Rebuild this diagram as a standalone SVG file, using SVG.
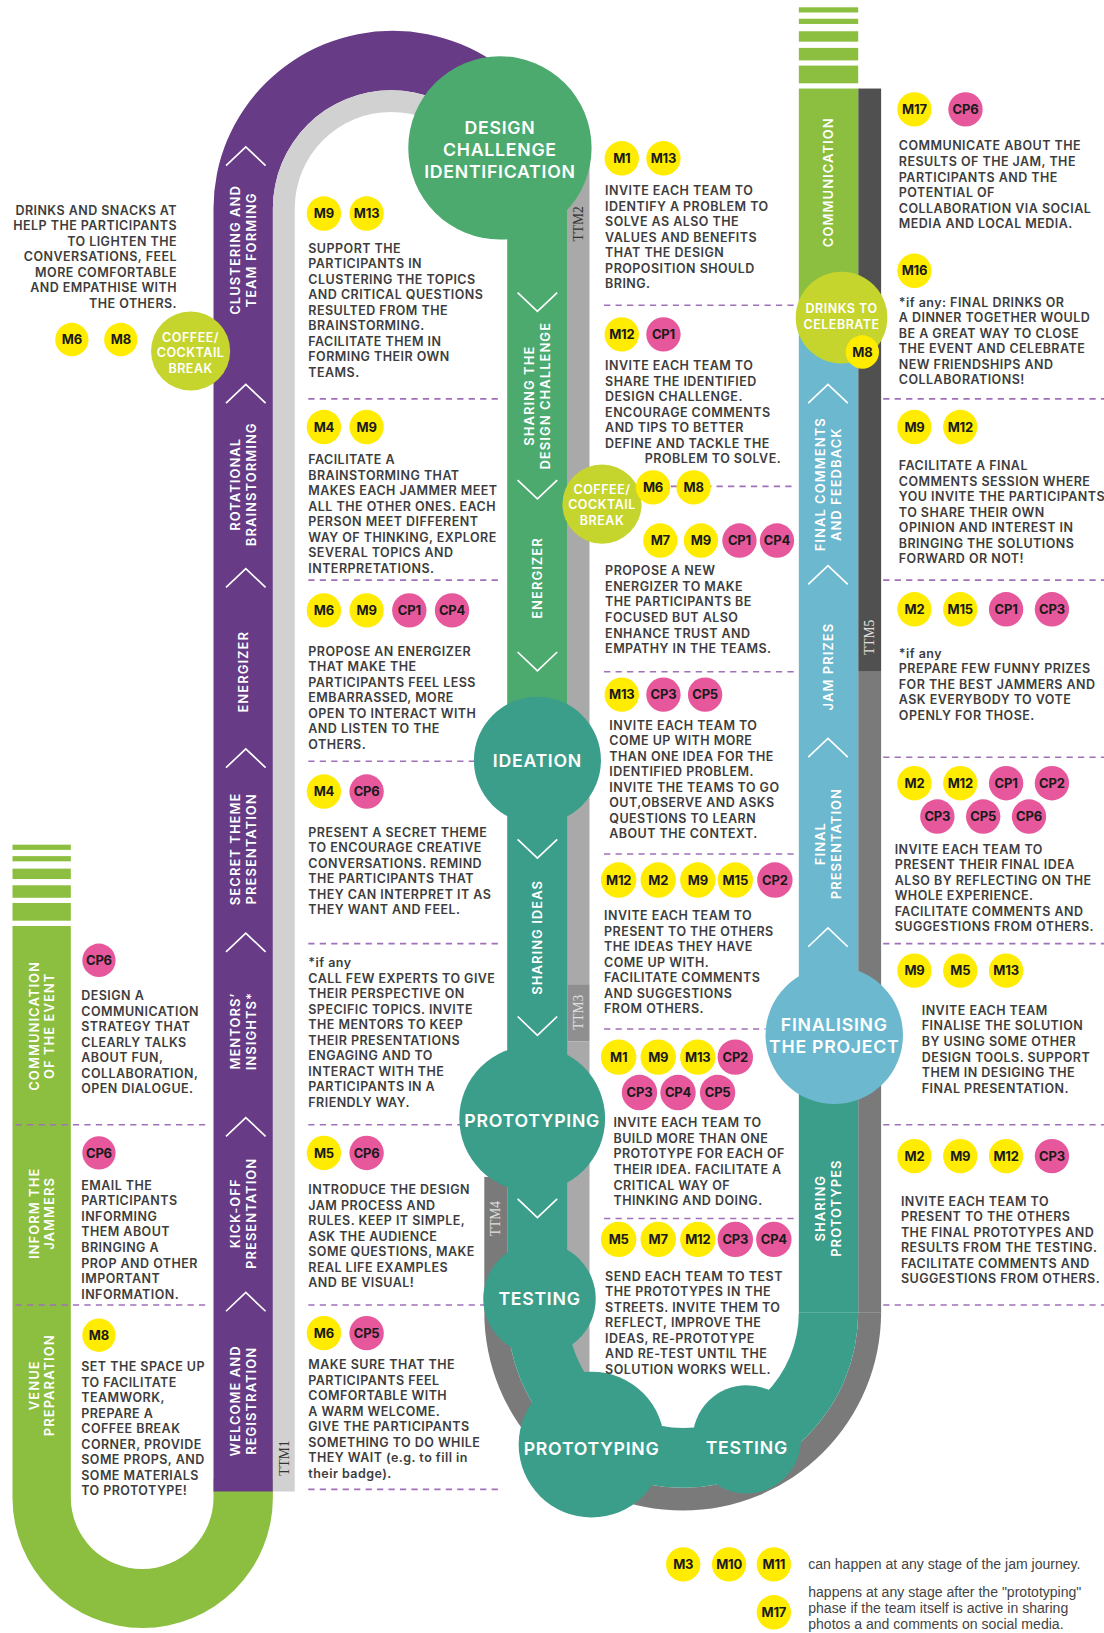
<svg xmlns="http://www.w3.org/2000/svg" width="1104" height="1633" viewBox="0 0 1104 1633">
<style>
.t{font-family:Inter,'Open Sans','Liberation Sans',sans-serif;font-weight:600;font-size:12px;letter-spacing:0.45px;fill:#3d3d3d}
.b{font-family:Inter,'Liberation Sans',sans-serif;font-weight:700;font-size:12.5px;letter-spacing:-0.2px;fill:#1a1a1a;text-anchor:middle}
.m{fill:#ffec00}
.c{fill:#e6589b}
.lb{font-family:Inter,'Liberation Sans',sans-serif;font-weight:600;font-size:12.5px;letter-spacing:1px;fill:#fff;text-anchor:middle}
.cl{font-family:Inter,'Liberation Sans',sans-serif;font-weight:600;font-size:17px;letter-spacing:0.7px;fill:#fff;text-anchor:middle}
.cs{font-family:Inter,'Liberation Sans',sans-serif;font-weight:600;font-size:12px;letter-spacing:0.5px;fill:#fff;text-anchor:middle}
.ttm{font-family:'Liberation Serif',serif;font-size:13px;text-anchor:middle}
.d{stroke:#a070b8;stroke-width:1.5;stroke-dasharray:6 5;fill:none}
.ch{stroke:#fff;stroke-width:1.6;fill:none}
.lg{font-family:'Liberation Sans',Arial,sans-serif;font-size:13.5px;fill:#444}
.lime{fill:#c6d52e}
.teal{fill:#3b9e8a}
</style>
<defs>
<path id="cu" d="M-19,9 L0,-9 L19,9"/>
<path id="cd" d="M-19,-9 L0,9 L19,-9"/>
</defs>
<rect width="1104" height="1633" fill="#fff"/>
<g transform="scale(1.04151)">

<!-- tracks -->
<g id="tracks">
 <g fill="#8cbf3f">
  <rect x="12" y="811" width="56" height="5"/>
  <rect x="12" y="822" width="56" height="5"/>
  <rect x="12" y="834" width="56" height="10"/>
  <rect x="12" y="850" width="56" height="12"/>
  <rect x="12" y="867" width="56" height="17"/>
  <path d="M12,889 V1438 A125,125 0 0 0 262,1438 V1420 H205 V1438 A68.5,68.5 0 0 1 68,1438 V889 Z"/>
 </g>
 <path fill="#673b85" d="M205,1432 V200 A172,170.5 0 0 1 549,200 L489,200 A113.5,113.5 0 0 0 262,200 V1432 Z"/>
 <path fill="#d1d1d1" d="M262,1432 V200 A113.5,113.5 0 0 1 489,200 L468,200 A92.5,92.5 0 0 0 283,200 V1432 Z"/>
 <rect x="545" y="150" width="21" height="795" fill="#a9a9a9"/>
 <rect x="545" y="945" width="21" height="55" fill="#8f8f8f"/>
 <rect x="545" y="1000" width="21" height="330" fill="#a9a9a9"/>
 <rect x="465" y="1130" width="22" height="130" fill="#7a7a7a"/>
 <rect x="824" y="85" width="22" height="560" fill="#505050"/>
 <rect x="824" y="645" width="22" height="615" fill="#7a7a7a"/>
 <path fill="#7a7a7a" d="M465,1260 A190.5,190.5 0 0 0 846,1260 L824,1260 A168.5,168.5 0 0 1 487,1260 Z"/>
 <rect x="487" y="142" width="58" height="590" fill="#4caa6e"/>
 <rect x="487" y="732" width="58" height="528" class="teal"/>
 <path class="teal" d="M487,1260 A168.5,168.5 0 0 0 824,1260 L767,1260 A111,111 0 0 1 545,1260 Z"/>
 <g fill="#8cbf3f">
  <rect x="767" y="7" width="57" height="5"/>
  <rect x="767" y="18" width="57" height="5"/>
  <rect x="767" y="30" width="57" height="10"/>
  <rect x="767" y="46" width="57" height="12"/>
  <rect x="767" y="63" width="57" height="17"/>
  <rect x="767" y="85" width="57" height="220"/>
 </g>
 <rect x="767" y="305" width="57" height="689" fill="#6bb8cf"/>
 <rect x="767" y="994" width="57" height="266" class="teal"/>
</g>

<!-- connectors: chevrons and dashed separators -->
<g id="connectors">
 <g class="ch">
  <use href="#cu" x="236" y="150"/><use href="#cu" x="236" y="378"/><use href="#cu" x="236" y="555"/>
  <use href="#cu" x="236" y="728"/><use href="#cu" x="236" y="905"/><use href="#cu" x="236" y="1082"/>
  <use href="#cu" x="236" y="1250"/>
  <use href="#cd" x="516" y="290"/><use href="#cd" x="516" y="470"/><use href="#cd" x="516" y="635"/>
  <use href="#cd" x="516" y="815"/><use href="#cd" x="516" y="985"/><use href="#cd" x="516" y="1160"/>
  <use href="#cu" x="795" y="378"/><use href="#cu" x="795" y="552"/><use href="#cu" x="795" y="718"/>
  <use href="#cu" x="795" y="900"/>
 </g>
 <g class="d">
  <path d="M15,1080 H197 M15,1253 H197"/>
  <path d="M296,383 H480 M296,557 H480 M296,731 H478 M296,906 H480 M296,1080 H480 M296,1253 H480 M296,1430 H480"/>
  <path d="M580,293 H765 M600,467 H765 M580,645 H765 M580,820 H765 M580,988 H735 M580,1170 H765"/>
  <path d="M848,383 H1060 M848,557 H1060 M848,727 H1060 M848,906 H1060 M848,1080 H1060 M848,1253 H1060"/>
 </g>
</g>

<!-- band labels -->
<g id="band-labels" class="lb">
 <text transform="translate(233.5,240) rotate(-90)"><tspan x="0" y="-3">CLUSTERING AND</tspan><tspan x="0" y="12">TEAM FORMING</tspan></text>
 <text transform="translate(233.5,465) rotate(-90)"><tspan x="0" y="-3">ROTATIONAL</tspan><tspan x="0" y="12">BRAINSTORMING</tspan></text>
 <text transform="translate(233.5,645) rotate(-90)" y="4.5">ENERGIZER</text>
 <text transform="translate(233.5,815) rotate(-90)"><tspan x="0" y="-3">SECRET THEME</tspan><tspan x="0" y="12">PRESENTATION</tspan></text>
 <text transform="translate(233.5,990) rotate(-90)"><tspan x="0" y="-3">MENTORS’</tspan><tspan x="0" y="12">INSIGHTS*</tspan></text>
 <text transform="translate(233.5,1165) rotate(-90)"><tspan x="0" y="-3">KICK-OFF</tspan><tspan x="0" y="12">PRESENTATION</tspan></text>
 <text transform="translate(233.5,1345) rotate(-90)"><tspan x="0" y="-3">WELCOME AND</tspan><tspan x="0" y="12">REGISTRATION</tspan></text>
 <text transform="translate(40,985) rotate(-90)"><tspan x="0" y="-3">COMMUNICATION</tspan><tspan x="0" y="12">OF THE EVENT</tspan></text>
 <text transform="translate(40,1165) rotate(-90)"><tspan x="0" y="-3">INFORM THE</tspan><tspan x="0" y="12">JAMMERS</tspan></text>
 <text transform="translate(40,1330) rotate(-90)"><tspan x="0" y="-3">VENUE</tspan><tspan x="0" y="12">PREPARATION</tspan></text>
 <text transform="translate(516,380) rotate(-90)"><tspan x="0" y="-3">SHARING THE</tspan><tspan x="0" y="12">DESIGN CHALLENGE</tspan></text>
 <text transform="translate(516,555) rotate(-90)" y="4.5">ENERGIZER</text>
 <text transform="translate(516,900) rotate(-90)" y="4.5">SHARING IDEAS</text>
 <text transform="translate(795.5,175) rotate(-90)" y="4.5">COMMUNICATION</text>
 <text transform="translate(795.5,465) rotate(-90)"><tspan x="0" y="-3">FINAL COMMENTS</tspan><tspan x="0" y="12">AND FEEDBACK</tspan></text>
 <text transform="translate(795.5,640) rotate(-90)" y="4.5">JAM PRIZES</text>
 <text transform="translate(795.5,810) rotate(-90)"><tspan x="0" y="-3">FINAL</tspan><tspan x="0" y="12">PRESENTATION</tspan></text>
 <text transform="translate(795.5,1160) rotate(-90)"><tspan x="0" y="-3">SHARING</tspan><tspan x="0" y="12">PROTOTYPES</tspan></text>
</g>
<g id="ttm-labels" class="ttm">
 <text transform="translate(273,1400) rotate(-90)" y="4.5" fill="#333">TTM1</text>
 <text transform="translate(555.5,215) rotate(-90)" y="4.5" fill="#333">TTM2</text>
 <text transform="translate(555.5,972) rotate(-90)" y="4.5" fill="#e0e0e0">TTM3</text>
 <text transform="translate(476,1170) rotate(-90)" y="4.5" fill="#e0e0e0">TTM4</text>
 <text transform="translate(835,612) rotate(-90)" y="4.5" fill="#e0e0e0">TTM5</text>
</g>

<!-- phase circles -->
<g id="design-challenge"><circle cx="480" cy="142" r="88" fill="#4caa6e"/>
 <text class="cl"><tspan x="480" y="129">DESIGN</tspan><tspan x="480" y="150">CHALLENGE</tspan><tspan x="480" y="171">IDENTIFICATION</tspan></text></g>
<g id="ideation"><circle cx="516" cy="730" r="61" class="teal"/><text class="cl" x="516" y="736">IDEATION</text></g>
<g id="prototyping-1"><circle cx="511" cy="1074" r="70" class="teal"/><text class="cl" x="511" y="1082">PROTOTYPING</text></g>
<g id="testing-1"><circle cx="518" cy="1247" r="54" class="teal"/><text class="cl" x="518" y="1253">TESTING</text></g>
<g id="prototyping-2"><circle cx="568" cy="1387" r="70" class="teal"/><text class="cl" x="568" y="1397">PROTOTYPING</text></g>
<g id="testing-2"><circle cx="717" cy="1382" r="52" class="teal"/><text class="cl" x="717" y="1396">TESTING</text></g>
<g id="finalising"><circle cx="801" cy="994" r="66" fill="#6bb8cf"/>
 <text class="cl"><tspan x="801" y="990">FINALISING</tspan><tspan x="801" y="1011">THE PROJECT</tspan></text></g>
<g id="coffee-1"><circle cx="183" cy="337" r="38" class="lime"/>
 <text class="cs"><tspan x="183" y="328">COFFEE/</tspan><tspan x="183" y="343">COCKTAIL</tspan><tspan x="183" y="358">BREAK</tspan></text></g>
<g id="coffee-2"><circle cx="578" cy="484" r="38" class="lime"/>
 <text class="cs"><tspan x="578" y="474">COFFEE/</tspan><tspan x="578" y="489">COCKTAIL</tspan><tspan x="578" y="504">BREAK</tspan></text></g>
<g id="drinks"><circle cx="808" cy="305" r="44" class="lime"/>
 <text class="cs"><tspan x="808" y="301">DRINKS TO</tspan><tspan x="808" y="316">CELEBRATE</tspan></text>
 <circle cx="828" cy="338" r="16" class="m"/><text class="b" x="828" y="342.5">M8</text></g>

<!-- left pre-event column -->
<g id="coffee-note">
 <text class="t" text-anchor="end"><tspan x="170" y="206.5">DRINKS AND SNACKS AT</tspan><tspan x="170" dy="14.8">HELP THE PARTICIPANTS</tspan><tspan x="170" dy="14.8">TO LIGHTEN THE</tspan><tspan x="170" dy="14.8">CONVERSATIONS, FEEL</tspan><tspan x="170" dy="14.8">MORE COMFORTABLE</tspan><tspan x="170" dy="14.8">AND EMPATHISE WITH</tspan><tspan x="170" dy="14.8">THE OTHERS.</tspan></text>
 <circle cx="69" cy="326" r="16" class="m"/><text class="b" x="69" y="330.5">M6</text>
 <circle cx="116" cy="326" r="16" class="m"/><text class="b" x="116" y="330.5">M8</text>
</g>
<g id="communication-event">
 <circle cx="95" cy="922" r="16" class="c"/><text class="b" x="95" y="926.5">CP6</text>
 <text class="t"><tspan x="78" y="960.5">DESIGN A</tspan><tspan x="78" dy="14.9">COMMUNICATION</tspan><tspan x="78" dy="14.9">STRATEGY THAT</tspan><tspan x="78" dy="14.9">CLEARLY TALKS</tspan><tspan x="78" dy="14.9">ABOUT FUN,</tspan><tspan x="78" dy="14.9">COLLABORATION,</tspan><tspan x="78" dy="14.9">OPEN DIALOGUE.</tspan></text>
</g>
<g id="inform-jammers">
 <circle cx="95" cy="1107" r="16" class="c"/><text class="b" x="95" y="1111.5">CP6</text>
 <text class="t"><tspan x="78" y="1142.5">EMAIL THE</tspan><tspan x="78" dy="14.9">PARTICIPANTS</tspan><tspan x="78" dy="14.9">INFORMING</tspan><tspan x="78" dy="14.9">THEM ABOUT</tspan><tspan x="78" dy="14.9">BRINGING A</tspan><tspan x="78" dy="14.9">PROP AND OTHER</tspan><tspan x="78" dy="14.9">IMPORTANT</tspan><tspan x="78" dy="14.9">INFORMATION.</tspan></text>
</g>
<g id="venue-preparation">
 <circle cx="95" cy="1282" r="16" class="m"/><text class="b" x="95" y="1286.5">M8</text>
 <text class="t"><tspan x="78" y="1316.5">SET THE SPACE UP</tspan><tspan x="78" dy="14.9">TO FACILITATE</tspan><tspan x="78" dy="14.9">TEAMWORK,</tspan><tspan x="78" dy="14.9">PREPARE A</tspan><tspan x="78" dy="14.9">COFFEE BREAK</tspan><tspan x="78" dy="14.9">CORNER, PROVIDE</tspan><tspan x="78" dy="14.9">SOME PROPS, AND</tspan><tspan x="78" dy="14.9">SOME MATERIALS</tspan><tspan x="78" dy="14.9">TO PROTOTYPE!</tspan></text>
</g>

<!-- middle column 1 -->
<g id="clustering">
 <circle cx="311" cy="205" r="16.5" class="m"/><text class="b" x="311" y="209.5">M9</text>
 <circle cx="352" cy="205" r="16.5" class="m"/><text class="b" x="352" y="209.5">M13</text>
 <text class="t"><tspan x="296" y="242.5">SUPPORT THE</tspan><tspan x="296" dy="14.9">PARTICIPANTS IN</tspan><tspan x="296" dy="14.9">CLUSTERING THE TOPICS</tspan><tspan x="296" dy="14.9">AND CRITICAL QUESTIONS</tspan><tspan x="296" dy="14.9">RESULTED FROM THE</tspan><tspan x="296" dy="14.9">BRAINSTORMING.</tspan><tspan x="296" dy="14.9">FACILITATE THEM IN</tspan><tspan x="296" dy="14.9">FORMING THEIR OWN</tspan><tspan x="296" dy="14.9">TEAMS.</tspan></text>
</g>
<g id="rotational-brainstorming">
 <circle cx="311" cy="410" r="16.5" class="m"/><text class="b" x="311" y="414.5">M4</text>
 <circle cx="352" cy="410" r="16.5" class="m"/><text class="b" x="352" y="414.5">M9</text>
 <text class="t"><tspan x="296" y="445.5">FACILITATE A</tspan><tspan x="296" dy="14.9">BRAINSTORMING THAT</tspan><tspan x="296" dy="14.9">MAKES EACH JAMMER MEET</tspan><tspan x="296" dy="14.9">ALL THE OTHER ONES. EACH</tspan><tspan x="296" dy="14.9">PERSON MEET DIFFERENT</tspan><tspan x="296" dy="14.9">WAY OF THINKING, EXPLORE</tspan><tspan x="296" dy="14.9">SEVERAL TOPICS AND</tspan><tspan x="296" dy="14.9">INTERPRETATIONS.</tspan></text>
</g>
<g id="energizer-1">
 <circle cx="311" cy="586" r="16.5" class="m"/><text class="b" x="311" y="590.5">M6</text>
 <circle cx="352" cy="586" r="16.5" class="m"/><text class="b" x="352" y="590.5">M9</text>
 <circle cx="393" cy="586" r="16.5" class="c"/><text class="b" x="393" y="590.5">CP1</text>
 <circle cx="434" cy="586" r="16.5" class="c"/><text class="b" x="434" y="590.5">CP4</text>
 <text class="t"><tspan x="296" y="629.5">PROPOSE AN ENERGIZER</tspan><tspan x="296" dy="14.9">THAT MAKE THE</tspan><tspan x="296" dy="14.9">PARTICIPANTS FEEL LESS</tspan><tspan x="296" dy="14.9">EMBARRASSED, MORE</tspan><tspan x="296" dy="14.9">OPEN TO INTERACT WITH</tspan><tspan x="296" dy="14.9">AND LISTEN TO THE</tspan><tspan x="296" dy="14.9">OTHERS.</tspan></text>
</g>
<g id="secret-theme">
 <circle cx="311" cy="760" r="16.5" class="m"/><text class="b" x="311" y="764.5">M4</text>
 <circle cx="352" cy="760" r="16.5" class="c"/><text class="b" x="352" y="764.5">CP6</text>
 <text class="t"><tspan x="296" y="803.5">PRESENT A SECRET THEME</tspan><tspan x="296" dy="14.9">TO ENCOURAGE CREATIVE</tspan><tspan x="296" dy="14.9">CONVERSATIONS. REMIND</tspan><tspan x="296" dy="14.9">THE PARTICIPANTS THAT</tspan><tspan x="296" dy="14.9">THEY CAN INTERPRET IT AS</tspan><tspan x="296" dy="14.9">THEY WANT AND FEEL.</tspan></text>
</g>
<g id="mentors">
 <text class="t"><tspan x="296" y="928.5">*if any</tspan><tspan x="296" dy="14.9">CALL FEW EXPERTS TO GIVE</tspan><tspan x="296" dy="14.9">THEIR PERSPECTIVE ON</tspan><tspan x="296" dy="14.9">SPECIFIC TOPICS. INVITE</tspan><tspan x="296" dy="14.9">THE MENTORS TO KEEP</tspan><tspan x="296" dy="14.9">THEIR PRESENTATIONS</tspan><tspan x="296" dy="14.9">ENGAGING AND TO</tspan><tspan x="296" dy="14.9">INTERACT WITH THE</tspan><tspan x="296" dy="14.9">PARTICIPANTS IN A</tspan><tspan x="296" dy="14.9">FRIENDLY WAY.</tspan></text>
</g>
<g id="kick-off">
 <circle cx="311" cy="1107" r="16.5" class="m"/><text class="b" x="311" y="1111.5">M5</text>
 <circle cx="352" cy="1107" r="16.5" class="c"/><text class="b" x="352" y="1111.5">CP6</text>
 <text class="t"><tspan x="296" y="1146.5">INTRODUCE THE DESIGN</tspan><tspan x="296" dy="14.9">JAM PROCESS AND</tspan><tspan x="296" dy="14.9">RULES. KEEP IT SIMPLE,</tspan><tspan x="296" dy="14.9">ASK THE AUDIENCE</tspan><tspan x="296" dy="14.9">SOME QUESTIONS, MAKE</tspan><tspan x="296" dy="14.9">REAL LIFE EXAMPLES</tspan><tspan x="296" dy="14.9">AND BE VISUAL!</tspan></text>
</g>
<g id="welcome">
 <circle cx="311" cy="1280" r="16.5" class="m"/><text class="b" x="311" y="1284.5">M6</text>
 <circle cx="352" cy="1280" r="16.5" class="c"/><text class="b" x="352" y="1284.5">CP5</text>
 <text class="t"><tspan x="296" y="1314.5">MAKE SURE THAT THE</tspan><tspan x="296" dy="14.9">PARTICIPANTS FEEL</tspan><tspan x="296" dy="14.9">COMFORTABLE WITH</tspan><tspan x="296" dy="14.9">A WARM WELCOME.</tspan><tspan x="296" dy="14.9">GIVE THE PARTICIPANTS</tspan><tspan x="296" dy="14.9">SOMETHING TO DO WHILE</tspan><tspan x="296" dy="14.9">THEY WAIT (e.g. to fill in</tspan><tspan x="296" dy="14.9">their badge).</tspan></text>
</g>

<!-- middle column 2 -->
<g id="identify-problem">
 <circle cx="597" cy="152" r="16.5" class="m"/><text class="b" x="597" y="156.5">M1</text>
 <circle cx="637" cy="152" r="16.5" class="m"/><text class="b" x="637" y="156.5">M13</text>
 <text class="t"><tspan x="581" y="187.5">INVITE EACH TEAM TO</tspan><tspan x="581" dy="14.9">IDENTIFY A PROBLEM TO</tspan><tspan x="581" dy="14.9">SOLVE AS ALSO THE</tspan><tspan x="581" dy="14.9">VALUES AND BENEFITS</tspan><tspan x="581" dy="14.9">THAT THE DESIGN</tspan><tspan x="581" dy="14.9">PROPOSITION SHOULD</tspan><tspan x="581" dy="14.9">BRING.</tspan></text>
</g>
<g id="sharing-challenge">
 <circle cx="597" cy="321" r="16.5" class="m"/><text class="b" x="597" y="325.5">M12</text>
 <circle cx="637" cy="321" r="16.5" class="c"/><text class="b" x="637" y="325.5">CP1</text>
 <text class="t"><tspan x="581" y="355.5">INVITE EACH TEAM TO</tspan><tspan x="581" dy="14.9">SHARE THE IDENTIFIED</tspan><tspan x="581" dy="14.9">DESIGN CHALLENGE.</tspan><tspan x="581" dy="14.9">ENCOURAGE COMMENTS</tspan><tspan x="581" dy="14.9">AND TIPS TO BETTER</tspan><tspan x="581" dy="14.9">DEFINE AND TACKLE THE</tspan></text>
 <text class="t" x="750" y="445" text-anchor="end">PROBLEM TO SOLVE.</text>
</g>
<g id="coffee-2-badges">
 <circle cx="627" cy="468" r="16.5" class="m"/><text class="b" x="627" y="472.5">M6</text>
 <circle cx="666" cy="468" r="16.5" class="m"/><text class="b" x="666" y="472.5">M8</text>
</g>
<g id="energizer-2">
 <circle cx="634" cy="519" r="16.5" class="m"/><text class="b" x="634" y="523.5">M7</text>
 <circle cx="673" cy="519" r="16.5" class="m"/><text class="b" x="673" y="523.5">M9</text>
 <circle cx="710" cy="519" r="16.5" class="c"/><text class="b" x="710" y="523.5">CP1</text>
 <circle cx="746" cy="519" r="16.5" class="c"/><text class="b" x="746" y="523.5">CP4</text>
 <text class="t"><tspan x="581" y="552.5">PROPOSE A NEW</tspan><tspan x="581" dy="14.9">ENERGIZER TO MAKE</tspan><tspan x="581" dy="14.9">THE PARTICIPANTS BE</tspan><tspan x="581" dy="14.9">FOCUSED BUT ALSO</tspan><tspan x="581" dy="14.9">ENHANCE TRUST AND</tspan><tspan x="581" dy="14.9">EMPATHY IN THE TEAMS.</tspan></text>
</g>
<g id="ideation-text">
 <circle cx="597" cy="667" r="16.5" class="m"/><text class="b" x="597" y="671.5">M13</text>
 <circle cx="637" cy="667" r="16.5" class="c"/><text class="b" x="637" y="671.5">CP3</text>
 <circle cx="677" cy="667" r="16.5" class="c"/><text class="b" x="677" y="671.5">CP5</text>
 <text class="t"><tspan x="585" y="700.5">INVITE EACH TEAM TO</tspan><tspan x="585" dy="14.9">COME UP WITH MORE</tspan><tspan x="585" dy="14.9">THAN ONE IDEA FOR THE</tspan><tspan x="585" dy="14.9">IDENTIFIED PROBLEM.</tspan><tspan x="585" dy="14.9">INVITE THE TEAMS TO GO</tspan><tspan x="585" dy="14.9">OUT,OBSERVE AND ASKS</tspan><tspan x="585" dy="14.9">QUESTIONS TO LEARN</tspan><tspan x="585" dy="14.9">ABOUT THE CONTEXT.</tspan></text>
</g>
<g id="sharing-ideas">
 <circle cx="594" cy="845" r="17" class="m"/><text class="b" x="594" y="849.5">M12</text>
 <circle cx="632" cy="845" r="17" class="m"/><text class="b" x="632" y="849.5">M2</text>
 <circle cx="670" cy="845" r="17" class="m"/><text class="b" x="670" y="849.5">M9</text>
 <circle cx="706" cy="845" r="17" class="m"/><text class="b" x="706" y="849.5">M15</text>
 <circle cx="744" cy="845" r="17" class="c"/><text class="b" x="744" y="849.5">CP2</text>
 <text class="t"><tspan x="580" y="883.5">INVITE EACH TEAM TO</tspan><tspan x="580" dy="14.9">PRESENT TO THE OTHERS</tspan><tspan x="580" dy="14.9">THE IDEAS THEY HAVE</tspan><tspan x="580" dy="14.9">COME UP WITH.</tspan><tspan x="580" dy="14.9">FACILITATE COMMENTS</tspan><tspan x="580" dy="14.9">AND SUGGESTIONS</tspan><tspan x="580" dy="14.9">FROM OTHERS.</tspan></text>
</g>
<g id="prototyping-text">
 <circle cx="594" cy="1015" r="17" class="m"/><text class="b" x="594" y="1019.5">M1</text>
 <circle cx="632" cy="1015" r="17" class="m"/><text class="b" x="632" y="1019.5">M9</text>
 <circle cx="670" cy="1015" r="17" class="m"/><text class="b" x="670" y="1019.5">M13</text>
 <circle cx="706" cy="1015" r="17" class="c"/><text class="b" x="706" y="1019.5">CP2</text>
 <circle cx="614" cy="1049" r="17" class="c"/><text class="b" x="614" y="1053.5">CP3</text>
 <circle cx="651" cy="1049" r="17" class="c"/><text class="b" x="651" y="1053.5">CP4</text>
 <circle cx="689" cy="1049" r="17" class="c"/><text class="b" x="689" y="1053.5">CP5</text>
 <text class="t"><tspan x="589" y="1082.5">INVITE EACH TEAM TO</tspan><tspan x="589" dy="14.9">BUILD MORE THAN ONE</tspan><tspan x="589" dy="14.9">PROTOTYPE FOR EACH OF</tspan><tspan x="589" dy="14.9">THEIR IDEA. FACILITATE A</tspan><tspan x="589" dy="14.9">CRITICAL WAY OF</tspan><tspan x="589" dy="14.9">THINKING AND DOING.</tspan></text>
</g>
<g id="testing-text">
 <circle cx="594" cy="1190" r="17" class="m"/><text class="b" x="594" y="1194.5">M5</text>
 <circle cx="632" cy="1190" r="17" class="m"/><text class="b" x="632" y="1194.5">M7</text>
 <circle cx="670" cy="1190" r="17" class="m"/><text class="b" x="670" y="1194.5">M12</text>
 <circle cx="706" cy="1190" r="17" class="c"/><text class="b" x="706" y="1194.5">CP3</text>
 <circle cx="743" cy="1190" r="17" class="c"/><text class="b" x="743" y="1194.5">CP4</text>
 <text class="t"><tspan x="581" y="1229.5">SEND EACH TEAM TO TEST</tspan><tspan x="581" dy="14.9">THE PROTOTYPES IN THE</tspan><tspan x="581" dy="14.9">STREETS. INVITE THEM TO</tspan><tspan x="581" dy="14.9">REFLECT, IMPROVE THE</tspan><tspan x="581" dy="14.9">IDEAS, RE-PROTOTYPE</tspan><tspan x="581" dy="14.9">AND RE-TEST UNTIL THE</tspan><tspan x="581" dy="14.9">SOLUTION WORKS WELL.</tspan></text>
</g>

<!-- right column -->
<g id="communication">
 <circle cx="878" cy="105" r="16.5" class="m"/><text class="b" x="878" y="109.5">M17</text>
 <circle cx="927" cy="105" r="16.5" class="c"/><text class="b" x="927" y="109.5">CP6</text>
 <text class="t"><tspan x="863" y="144.5">COMMUNICATE ABOUT THE</tspan><tspan x="863" dy="14.9">RESULTS OF THE JAM, THE</tspan><tspan x="863" dy="14.9">PARTICIPANTS AND THE</tspan><tspan x="863" dy="14.9">POTENTIAL OF</tspan><tspan x="863" dy="14.9">COLLABORATION VIA SOCIAL</tspan><tspan x="863" dy="14.9">MEDIA AND LOCAL MEDIA.</tspan></text>
</g>
<g id="drinks-text">
 <circle cx="878" cy="260" r="16.5" class="m"/><text class="b" x="878" y="264.5">M16</text>
 <text class="t"><tspan x="863" y="294.5">*if any: FINAL DRINKS OR</tspan><tspan x="863" dy="14.9">A DINNER TOGETHER WOULD</tspan><tspan x="863" dy="14.9">BE A GREAT WAY TO CLOSE</tspan><tspan x="863" dy="14.9">THE EVENT AND CELEBRATE</tspan><tspan x="863" dy="14.9">NEW FRIENDSHIPS AND</tspan><tspan x="863" dy="14.9">COLLABORATIONS!</tspan></text>
</g>
<g id="final-comments">
 <circle cx="878" cy="410" r="16.5" class="m"/><text class="b" x="878" y="414.5">M9</text>
 <circle cx="922" cy="410" r="16.5" class="m"/><text class="b" x="922" y="414.5">M12</text>
 <text class="t"><tspan x="863" y="451.5">FACILITATE A FINAL</tspan><tspan x="863" dy="14.9">COMMENTS SESSION WHERE</tspan><tspan x="863" dy="14.9">YOU INVITE THE PARTICIPANTS</tspan><tspan x="863" dy="14.9">TO SHARE THEIR OWN</tspan><tspan x="863" dy="14.9">OPINION AND INTEREST IN</tspan><tspan x="863" dy="14.9">BRINGING THE SOLUTIONS</tspan><tspan x="863" dy="14.9">FORWARD OR NOT!</tspan></text>
</g>
<g id="jam-prizes">
 <circle cx="878" cy="585" r="16.5" class="m"/><text class="b" x="878" y="589.5">M2</text>
 <circle cx="922" cy="585" r="16.5" class="m"/><text class="b" x="922" y="589.5">M15</text>
 <circle cx="966" cy="585" r="16.5" class="c"/><text class="b" x="966" y="589.5">CP1</text>
 <circle cx="1010" cy="585" r="16.5" class="c"/><text class="b" x="1010" y="589.5">CP3</text>
 <text class="t"><tspan x="863" y="631.5">*if any</tspan><tspan x="863" dy="14.9">PREPARE FEW FUNNY PRIZES</tspan><tspan x="863" dy="14.9">FOR THE BEST JAMMERS AND</tspan><tspan x="863" dy="14.9">ASK EVERYBODY TO VOTE</tspan><tspan x="863" dy="14.9">OPENLY FOR THOSE.</tspan></text>
</g>
<g id="final-presentation">
 <circle cx="878" cy="752" r="16.5" class="m"/><text class="b" x="878" y="756.5">M2</text>
 <circle cx="922" cy="752" r="16.5" class="m"/><text class="b" x="922" y="756.5">M12</text>
 <circle cx="966" cy="752" r="16.5" class="c"/><text class="b" x="966" y="756.5">CP1</text>
 <circle cx="1010" cy="752" r="16.5" class="c"/><text class="b" x="1010" y="756.5">CP2</text>
 <circle cx="900" cy="784" r="16.5" class="c"/><text class="b" x="900" y="788.5">CP3</text>
 <circle cx="944" cy="784" r="16.5" class="c"/><text class="b" x="944" y="788.5">CP5</text>
 <circle cx="988" cy="784" r="16.5" class="c"/><text class="b" x="988" y="788.5">CP6</text>
 <text class="t"><tspan x="859" y="819.5">INVITE EACH TEAM TO</tspan><tspan x="859" dy="14.9">PRESENT THEIR FINAL IDEA</tspan><tspan x="859" dy="14.9">ALSO BY REFLECTING ON THE</tspan><tspan x="859" dy="14.9">WHOLE EXPERIENCE.</tspan><tspan x="859" dy="14.9">FACILITATE COMMENTS AND</tspan><tspan x="859" dy="14.9">SUGGESTIONS FROM OTHERS.</tspan></text>
</g>
<g id="finalising-text">
 <circle cx="878" cy="932" r="16.5" class="m"/><text class="b" x="878" y="936.5">M9</text>
 <circle cx="922" cy="932" r="16.5" class="m"/><text class="b" x="922" y="936.5">M5</text>
 <circle cx="966" cy="932" r="16.5" class="m"/><text class="b" x="966" y="936.5">M13</text>
 <text class="t"><tspan x="885" y="974.5">INVITE EACH TEAM</tspan><tspan x="885" dy="14.9">FINALISE THE SOLUTION</tspan><tspan x="885" dy="14.9">BY USING SOME OTHER</tspan><tspan x="885" dy="14.9">DESIGN TOOLS. SUPPORT</tspan><tspan x="885" dy="14.9">THEM IN DESIGING THE</tspan><tspan x="885" dy="14.9">FINAL PRESENTATION.</tspan></text>
</g>
<g id="sharing-prototypes">
 <circle cx="878" cy="1110" r="16.5" class="m"/><text class="b" x="878" y="1114.5">M2</text>
 <circle cx="922" cy="1110" r="16.5" class="m"/><text class="b" x="922" y="1114.5">M9</text>
 <circle cx="966" cy="1110" r="16.5" class="m"/><text class="b" x="966" y="1114.5">M12</text>
 <circle cx="1010" cy="1110" r="16.5" class="c"/><text class="b" x="1010" y="1114.5">CP3</text>
 <text class="t"><tspan x="865" y="1157.5">INVITE EACH TEAM TO</tspan><tspan x="865" dy="14.9">PRESENT TO THE OTHERS</tspan><tspan x="865" dy="14.9">THE FINAL PROTOTYPES AND</tspan><tspan x="865" dy="14.9">RESULTS FROM THE TESTING.</tspan><tspan x="865" dy="14.9">FACILITATE COMMENTS AND</tspan><tspan x="865" dy="14.9">SUGGESTIONS FROM OTHERS.</tspan></text>
</g>

<!-- legend -->
<g id="legend">
 <circle cx="656" cy="1502" r="16.5" class="m"/><text class="b" x="656" y="1506.5">M3</text>
 <circle cx="700" cy="1502" r="16.5" class="m"/><text class="b" x="700" y="1506.5">M10</text>
 <circle cx="743" cy="1502" r="16.5" class="m"/><text class="b" x="743" y="1506.5">M11</text>
 <text class="lg" x="776" y="1506.5">can happen at any stage of the jam journey.</text>
 <circle cx="743" cy="1548" r="16.5" class="m"/><text class="b" x="743" y="1552.5">M17</text>
 <text class="lg"><tspan x="776" y="1533">happens at any stage after the "prototyping"</tspan><tspan x="776" dy="15.3">phase if the team itself is active in sharing</tspan><tspan x="776" dy="15.3">photos a and comments on social media.</tspan></text>
</g>
</g>
</svg>
